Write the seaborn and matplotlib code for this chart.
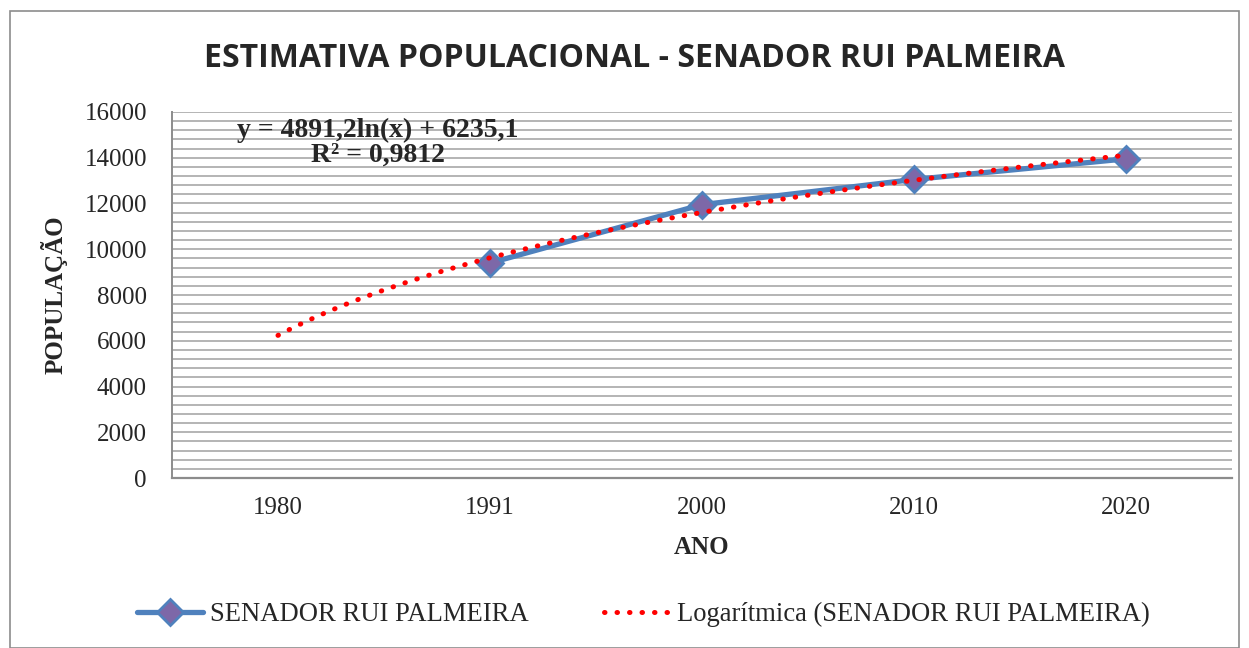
import numpy as np
import pandas as pd
import matplotlib
matplotlib.use("Agg")
import matplotlib.pyplot as plt
import seaborn as sns
from matplotlib.ticker import MultipleLocator
from matplotlib.lines import Line2D
from matplotlib.patches import Rectangle

# Data
anos = ["1980", "1991", "2000", "2010", "2020"]
populacao = [np.nan, 9400, 11950, 13050, 13950]
# Excel logarithmic trendline coefficients (y = a ln(x) + b, x = 1..5)
coef_a = 4891.2
coef_b = 6235.1
eq_text = "y = 4891,2ln(x) + 6235,1"
r2_text = "R² = 0,9812"

sns.set_style("white")
plt.rcParams["font.family"] = ["Liberation Serif", "DejaVu Serif"]

df = pd.DataFrame({"pos": np.arange(len(anos)), "ano": anos, "pop": populacao})
df = df.dropna()

# trendline evaluated across the category range
x_tr = np.linspace(1, len(anos), 200)
trend = pd.DataFrame({"pos": x_tr - 1, "pop": coef_a * np.log(x_tr) + coef_b})

fig = plt.figure(figsize=(12.49, 6.48), dpi=100)
ax = fig.add_axes([0.1377, 0.2623, 0.8487, 0.5649])

blue = "#4F81BD"
sns.lineplot(data=df, x="pos", y="pop", ax=ax, color=blue, linewidth=3.8,
             marker="D", markersize=13, markerfacecolor="#7D68A8",
             markeredgecolor=blue, markeredgewidth=2, zorder=3)
sns.lineplot(data=trend, x="pos", y="pop", ax=ax, color="#FF0000",
             linewidth=3.6, linestyle=(0, (0.1, 2.4)),
             dash_capstyle="round", zorder=4)

ax.set_xlim(-0.5, len(anos) - 0.5)
ax.set_ylim(0, 16000)
ax.set_xticks(np.arange(len(anos)))
ax.set_xticklabels(anos)
ax.yaxis.set_major_locator(MultipleLocator(2000))
ax.yaxis.set_minor_locator(MultipleLocator(400))
ax.grid(axis="y", which="both", color="#B4B4B4", linewidth=1.4)
ax.grid(axis="x", visible=False)
ax.tick_params(axis="y", which="both", length=0, pad=18, labelsize=18)
ax.tick_params(axis="x", length=0, pad=14, labelsize=18)
for side in ["top", "right"]:
    ax.spines[side].set_visible(False)
ax.spines["left"].set_color("#8C8C8C")
ax.spines["bottom"].set_color("#8C8C8C")
ax.spines["left"].set_linewidth(1.4)
ax.spines["bottom"].set_linewidth(1.6)

ax.set_xlabel("ANO", fontsize=18, fontweight="bold", labelpad=12)
ax.set_ylabel("POPULAÇÃO", fontsize=18, fontweight="bold", labelpad=12)

ax.text(0.194, 0.985, eq_text + "\n" + r2_text, transform=ax.transAxes,
        ha="center", va="top", fontsize=20, fontweight="bold",
        linespacing=1.0)

fig.text(0.508, 0.91, "ESTIMATIVA POPULACIONAL - SENADOR RUI PALMEIRA",
         ha="center", va="center", fontsize=23, fontweight="bold",
         family=["Open Sans", "DejaVu Sans"])

handles = [
    Line2D([], [], color=blue, linewidth=3.8, marker="D", markersize=13,
           markerfacecolor="#7D68A8", markeredgecolor=blue, markeredgewidth=2),
    Line2D([], [], color="#FF0000", linewidth=3.6, linestyle=(0, (0.1, 2.4)),
           dash_capstyle="round"),
]
fig.legend(handles, ["SENADOR RUI PALMEIRA", "Logarítmica (SENADOR RUI PALMEIRA)"],
           loc="center", bbox_to_anchor=(0.515, 0.052), ncol=2, frameon=False,
           fontsize=19.2, handlelength=2.5, handletextpad=0.25, columnspacing=2.8)

fig.patches.append(Rectangle((0.008, 0.0), 0.984, 0.983, transform=fig.transFigure,
                             fill=False, edgecolor="#8C8C8C", linewidth=1.2))

fig.savefig("out.png", dpi=100)
